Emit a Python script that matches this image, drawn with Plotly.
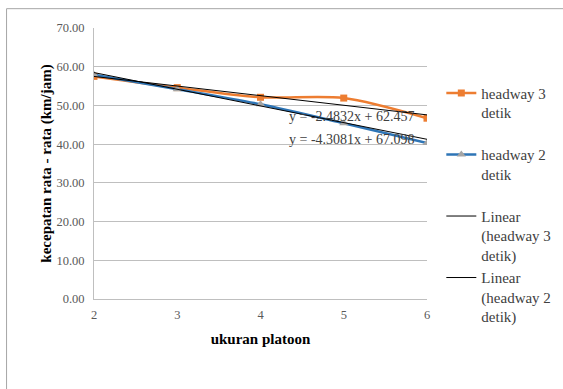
import plotly.graph_objects as go

x_platoon = [2, 3, 4, 5, 6]
headway3 = [57.5, 54.6, 52.1, 51.9, 46.7]
headway2 = [57.9, 54.2, 50.3, 45.4, 40.3]
trend3_slope, trend3_intercept = -2.4832, 62.457
trend2_slope, trend2_intercept = -4.3081, 67.098
eq3_text = "y = -2.4832x + 62.457"
eq2_text = "y = -4.3081x + 67.098"
y_ticks = [0, 10, 20, 30, 40, 50, 60, 70]

SERIF = "Liberation Serif, Times New Roman, serif"

fig = go.Figure()
fig.add_trace(go.Scatter(
    x=x_platoon, y=headway3, mode="lines+markers", name="headway 3<br>detik<br> ",
    line=dict(color="#ED7D31", width=2.5, shape="spline", smoothing=0.8),
    marker=dict(symbol="square", size=7, color="#ED7D31"),
    legendgroup="a"))
fig.add_trace(go.Scatter(
    x=x_platoon, y=headway2, mode="lines+markers", name="headway 2<br>detik<br> ",
    line=dict(color="#2E75B6", width=2.5, shape="spline", smoothing=0.8),
    marker=dict(symbol="triangle-up", size=8, color="#A5A5A5"),
    legendgroup="b"))
tx = [x_platoon[0], x_platoon[-1]]
fig.add_trace(go.Scatter(
    x=tx, y=[trend3_slope * v + trend3_intercept for v in tx], mode="lines",
    name="Linear<br>(headway 3<br>detik)", line=dict(color="#000000", width=1),
    legendgroup="c"))
fig.add_trace(go.Scatter(
    x=tx, y=[trend2_slope * v + trend2_intercept for v in tx], mode="lines",
    name="Linear<br>(headway 2<br>detik)", line=dict(color="#000000", width=1),
    legendgroup="d"))

fig.add_annotation(x=6, y=47.1, xref="x", yref="y", xshift=-11,
                   text=eq3_text, showarrow=False, xanchor="right",
                   font=dict(family=SERIF, size=14, color="#404040"))
fig.add_annotation(x=6, y=41.1, xref="x", yref="y", xshift=-11,
                   text=eq2_text, showarrow=False, xanchor="right",
                   font=dict(family=SERIF, size=14, color="#404040"))

# outer chart frame
fig.add_shape(type="rect", xref="paper", yref="paper", x0=-0.2626, y0=-0.5, x1=1.6, y1=1.0713,
              line=dict(color="#A6A6A6", width=1), layer="below")

fig.update_layout(
    width=563, height=389,
    margin=dict(l=94, r=136, t=28, b=90, autoexpand=False),
    paper_bgcolor="white", plot_bgcolor="white",
    font=dict(family=SERIF, color="#595959"),
    showlegend=True,
    legend=dict(x=1.043, y=0.82, xanchor="left", yanchor="top", valign="top",
                font=dict(family=SERIF, size=15, color="#404040"),
                tracegroupgap=2, itemwidth=30, traceorder="normal"),
    xaxis=dict(range=[2, 6], tickvals=x_platoon, showgrid=False, automargin=False,
               showline=True, linecolor="#BFBFBF", linewidth=1,
               ticks="outside", ticklen=4, tickcolor="rgba(0,0,0,0)",
               tickfont=dict(family=SERIF, size=12.5, color="#595959"),
               title=dict(text="<b>ukuran platoon</b>", standoff=12,
                          font=dict(family=SERIF, size=15, color="#000000"))),
    yaxis=dict(range=[0, 70], tickvals=y_ticks, tickformat=".2f", automargin=False,
               showgrid=True, gridcolor="#BFBFBF", gridwidth=1,
               showline=True, linecolor="#BFBFBF", linewidth=1,
               ticks="outside", ticklen=6, tickcolor="rgba(0,0,0,0)",
               zeroline=False,
               tickfont=dict(family=SERIF, size=12.5, color="#595959"),
               title=dict(text="<b>kecepatan rata - rata (km/jam)</b>", standoff=1,
                          font=dict(family=SERIF, size=15, color="#000000"))),
)

fig.write_html("out.html", config={"displayModeBar": False},
               post_script="document.body.style.margin='0';")
